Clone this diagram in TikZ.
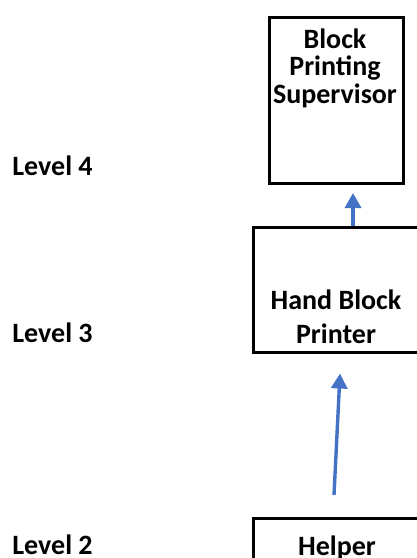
\documentclass[tikz,border=0pt]{standalone}
\usepackage{fontspec}
\setmainfont{Carlito}
\usetikzlibrary{arrows.meta}

\definecolor{arrowblue}{RGB}{68,114,196}

\begin{document}
\begin{tikzpicture}[x=0.5pt, y=-0.5pt,
    rolebox/.style={draw, line width=1.5pt, inner sep=0pt},
    roletext/.style={align=center, inner sep=0pt, font=\bfseries\fontsize{14}{17}\selectfont},
    leveltext/.style={anchor=base west, inner sep=0pt, font=\bfseries\fontsize{14}{17}\selectfont},
    uparrow/.style={draw=arrowblue, line width=1.7pt, -{Triangle[width=8pt, length=7.5pt]}}]
    % Page frame
    \useasboundingbox (0,0) rectangle (417,558);

    % Boxes
    \node[rolebox, minimum width=67pt, minimum height=83pt] (supbox) at (336,100) {};
    \node[rolebox, minimum width=86pt, minimum height=62.5pt] (printbox) at (339,289.5) {};
    \node[rolebox, minimum width=86pt, minimum height=41pt] (helpbox) at (339.5,559.5) {};

    % Box texts
    \node[roletext, font=\bfseries\fontsize{14}{13.75}\selectfont] (suptext) at (335,68) {Block\\Printing\\Supervisor};
    \node[roletext] (printtext) at (336,317) {Hand Block\\Printer};
    \node[roletext, anchor=base] (helptext) at (337,555) {Helper};

    % Level labels
    \node[leveltext] (lvlfour) at (12,175) {Level 4};
    \node[leveltext] (lvlthree) at (12,342) {Level 3};
    \node[leveltext] (lvltwo) at (12,554) {Level 2};

    % Arrows
    \draw[uparrow] ([xshift=7pt]printbox.north) -- ([xshift=8.5pt, yshift=-4.25pt]supbox.south);
    \draw[uparrow] ([xshift=-2.75pt, yshift=11pt]helpbox.north) -- ([xshift=0.5pt, yshift=-10pt]printbox.south);
\end{tikzpicture}
\end{document}
